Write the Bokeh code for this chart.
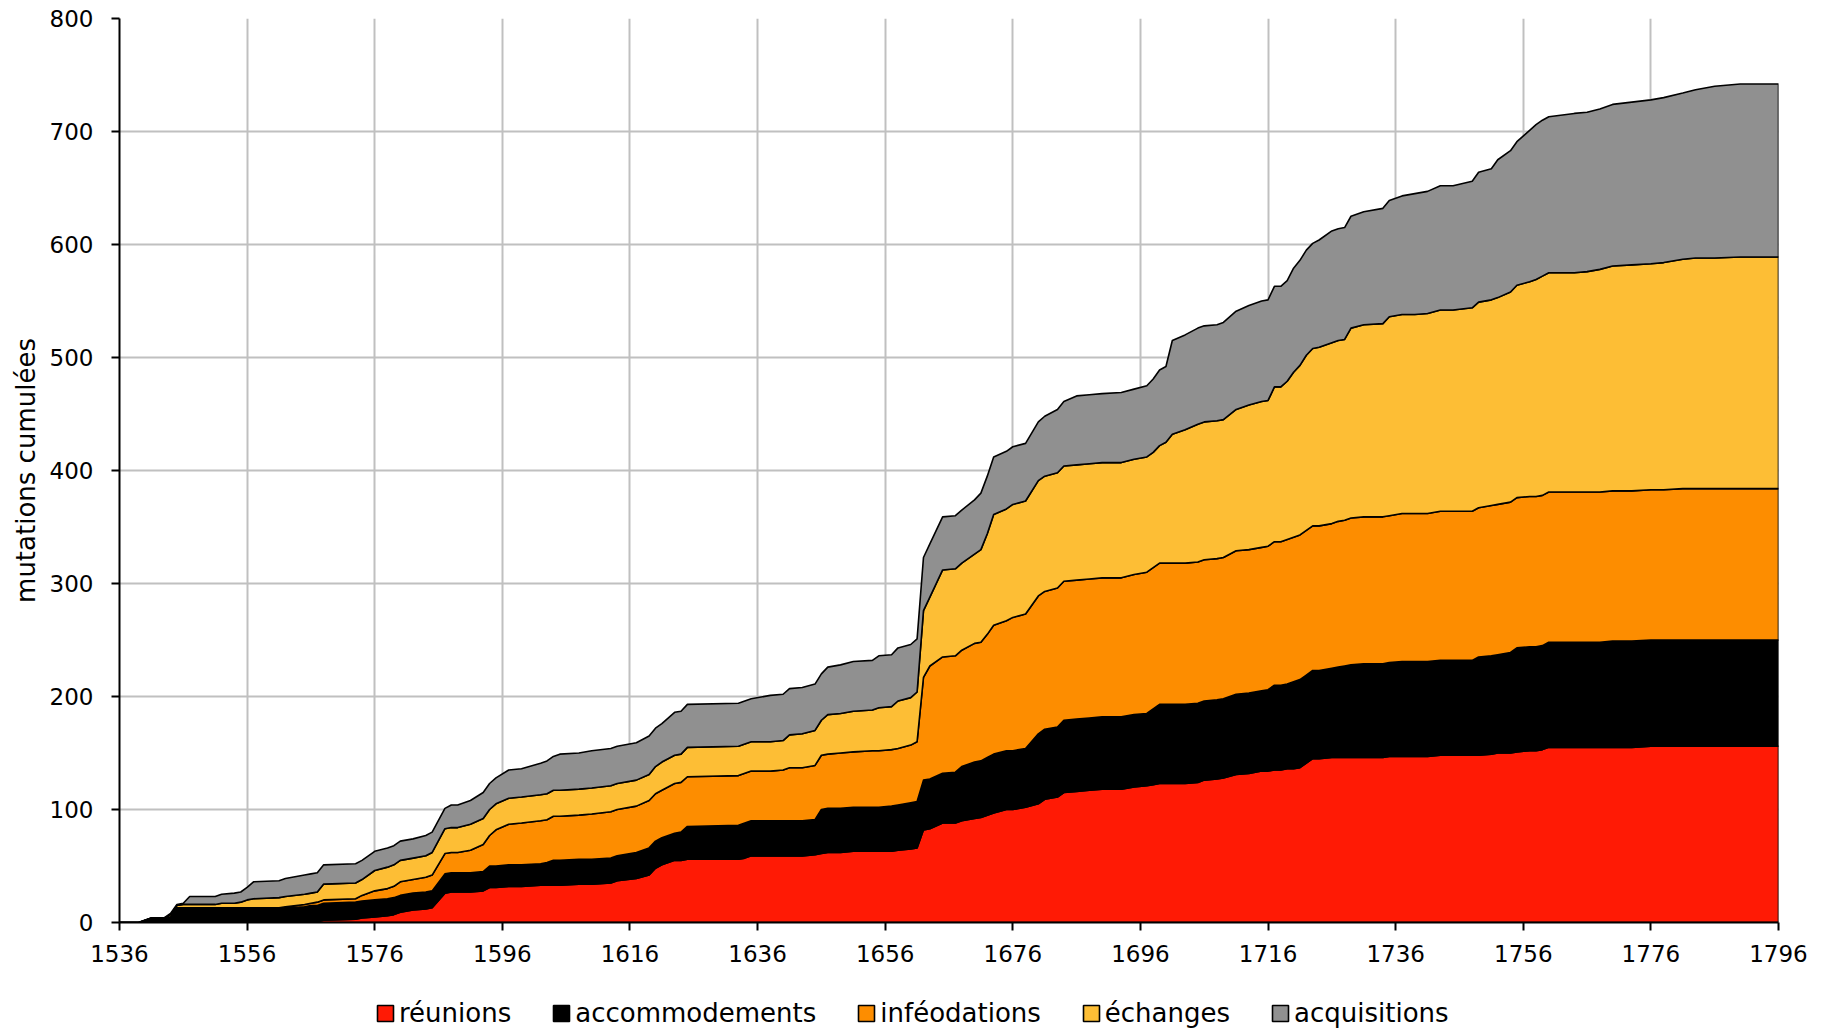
import numpy as np
from bokeh.plotting import figure
from bokeh.layouts import column
from bokeh.models import Range1d, FixedTicker, Legend, LegendItem
from bokeh.embed import file_html
from bokeh.resources import INLINE

years = [1536, 1539, 1541, 1543, 1544, 1545, 1546, 1547, 1551, 1552,
         1554, 1555, 1556, 1557, 1561, 1562, 1565, 1566, 1567, 1568,
         1573, 1574, 1576, 1578, 1579, 1580, 1582, 1584, 1585, 1587,
         1588, 1589, 1591, 1593, 1594, 1595, 1597, 1599, 1602, 1603,
         1604, 1605, 1608, 1610, 1613, 1614, 1617, 1619, 1620, 1621,
         1623, 1624, 1625, 1633, 1634, 1635, 1638, 1640, 1641, 1643,
         1645, 1646, 1647, 1649, 1651, 1654, 1655, 1657, 1658, 1660,
         1661, 1662, 1663, 1665, 1667, 1668, 1670, 1671, 1672, 1673,
         1675, 1676, 1678, 1680, 1681, 1683, 1684, 1686, 1688, 1690,
         1693, 1695, 1697, 1698, 1699, 1700, 1701, 1703, 1705, 1706,
         1708, 1709, 1711, 1713, 1715, 1716, 1717, 1718, 1719, 1720,
         1721, 1722, 1723, 1724, 1726, 1727, 1728, 1729, 1731, 1734,
         1735, 1737, 1739, 1741, 1743, 1745, 1748, 1749, 1751, 1752,
         1754, 1755, 1757, 1758, 1759, 1760, 1764, 1766, 1768, 1770,
         1773, 1776, 1778, 1781, 1783, 1786, 1790, 1796]

reunions = [0, 0, 0, 0, 0, 0, 0, 0, 0, 0,
            0, 0, 0, 0, 0, 0, 0, 1, 1, 2,
            3, 4, 5, 6, 7, 9, 11, 12, 13, 26,
            27, 27, 27, 28, 31, 31, 32, 32, 33, 33,
            33, 33, 34, 34, 35, 37, 39, 42, 48, 51,
            55, 55, 56, 56, 57, 59, 59, 59, 59, 59,
            60, 61, 62, 62, 63, 63, 63, 63, 64, 65,
            66, 82, 83, 88, 88, 90, 92, 93, 95, 97,
            100, 100, 102, 105, 109, 111, 115, 116, 117, 118,
            118, 120, 121, 122, 123, 123, 123, 123, 124, 126,
            127, 128, 131, 132, 134, 134, 135, 135, 136, 136,
            137, 141, 145, 145, 146, 146, 146, 146, 146, 146,
            147, 147, 147, 147, 148, 148, 148, 148, 149, 150,
            150, 151, 152, 152, 153, 155, 155, 155, 155, 155,
            155, 156, 156, 156, 156, 156, 156, 156]

accommodements = [0, 0, 4, 4, 5, 12, 12, 12, 12, 12,
                  12, 12, 12, 12, 12, 13, 14, 14, 14, 15,
                  15, 15, 15, 15, 15, 15, 15, 15, 15, 17,
                  17, 17, 17, 17, 19, 19, 19, 19, 19, 20,
                  22, 22, 22, 22, 22, 22, 23, 24, 24, 24,
                  24, 25, 29, 30, 31, 31, 31, 31, 31, 31,
                  31, 39, 39, 39, 39, 39, 39, 40, 40, 41,
                  41, 44, 44, 44, 45, 48, 50, 50, 51, 52,
                  52, 52, 52, 62, 62, 62, 64, 64, 64, 64,
                  64, 64, 64, 67, 70, 70, 70, 70, 70, 70,
                  70, 70, 71, 71, 71, 72, 75, 75, 75, 77,
                  78, 78, 78, 78, 79, 80, 81, 82, 83, 83,
                  83, 84, 84, 84, 84, 84, 84, 87, 87, 87,
                  89, 92, 92, 92, 92, 93, 93, 93, 93, 94,
                  94, 94, 94, 94, 94, 94, 94, 94]

infeodations = [0, 0, 0, 0, 0, 1, 1, 1, 1, 1,
                1, 1, 1, 1, 1, 1, 2, 2, 3, 3,
                3, 5, 8, 9, 10, 12, 12, 13, 14, 18,
                18, 18, 20, 24, 27, 32, 36, 37, 38, 38,
                39, 39, 39, 40, 41, 41, 41, 42, 42, 42,
                44, 44, 44, 44, 44, 44, 44, 45, 47, 47,
                48, 48, 48, 49, 49, 50, 50, 50, 50, 51,
                53, 91, 100, 103, 103, 103, 105, 105, 109, 114,
                115, 118, 119, 122, 122, 123, 123, 123, 123, 123,
                123, 124, 125, 125, 125, 125, 125, 125, 125, 125,
                125, 125, 127, 127, 127, 127, 127, 127, 128, 128,
                128, 128, 128, 128, 128, 129, 129, 130, 130, 130,
                130, 131, 131, 131, 132, 132, 132, 132, 133, 133,
                133, 133, 133, 133, 133, 133, 133, 133, 133, 133,
                133, 133, 133, 134, 134, 134, 134, 134]

echanges = [0, 0, 0, 0, 2, 2, 3, 3, 3, 4,
            4, 5, 7, 8, 9, 9, 9, 9, 9, 14,
            14, 14, 18, 19, 19, 19, 19, 19, 20, 22,
            22, 22, 23, 23, 23, 23, 23, 23, 23, 23,
            23, 23, 23, 23, 23, 23, 23, 23, 24, 25,
            25, 25, 26, 26, 26, 26, 26, 26, 29, 30,
            31, 31, 35, 35, 36, 36, 38, 38, 42, 42,
            44, 59, 61, 77, 77, 77, 79, 82, 89, 98,
            99, 100, 100, 102, 102, 102, 102, 102, 102, 102,
            102, 102, 102, 102, 104, 107, 114, 118, 122, 122,
            122, 122, 125, 128, 129, 129, 137, 137, 140, 146,
            150, 155, 157, 158, 160, 160, 160, 168, 170, 171,
            176, 176, 176, 177, 178, 178, 180, 182, 182, 183,
            186, 188, 190, 192, 194, 194, 194, 195, 197, 199,
            200, 200, 201, 203, 204, 204, 205, 205]

acquisitions = [0, 0, 0, 0, 1, 1, 1, 7, 7, 8,
                9, 9, 11, 15, 15, 16, 17, 17, 17, 17,
                17, 17, 17, 17, 17, 17, 17, 18, 18, 18,
                20, 20, 21, 23, 23, 23, 25, 25, 28, 29,
                30, 32, 32, 33, 33, 33, 33, 34, 34, 34,
                38, 38, 38, 38, 38, 38, 41, 41, 41, 41,
                41, 41, 42, 43, 44, 44, 46, 46, 47, 47,
                47, 47, 47, 47, 47, 47, 48, 50, 51, 51,
                51, 51, 51, 52, 53, 56, 57, 61, 61, 61,
                62, 62, 63, 65, 67, 67, 83, 84, 85, 85,
                85, 86, 87, 88, 89, 89, 89, 89, 89, 92,
                93, 93, 93, 95, 99, 99, 99, 99, 100, 102,
                103, 105, 107, 108, 110, 110, 112, 115, 116, 122,
                125, 127, 134, 137, 138, 138, 141, 141, 142, 143,
                144, 145, 146, 147, 149, 152, 153, 153]

labels = ["réunions", "accommodements", "inféodations", "échanges", "acquisitions"]
colors = ["#FF1A05", "#000000", "#FD8D00", "#FDBE35", "#909090"]
x_ticks = list(range(1536, 1797, 20))
y_ticks = list(range(0, 801, 100))

FONT = "DejaVu Sans"
W = 1822

p = figure(width=W, height=974,
           x_range=Range1d(1536, 1796), y_range=Range1d(0, 800),
           min_border_left=119, min_border_right=W - 1778,
           min_border_top=18, min_border_bottom=52,
           output_backend="svg", toolbar_location=None)
p.outline_line_color = None
p.background_fill_color = "white"
p.border_fill_color = "white"

x = np.array(years, dtype=float)
base = np.zeros(len(years))
for vals, col in zip([reunions, accommodements, infeodations, echanges, acquisitions], colors):
    top = base + np.array(vals, dtype=float)
    xs = list(x) + list(x[::-1])
    ys = list(top) + list(base[::-1])
    p.patch(xs, ys, fill_color=col, line_color="black", line_width=1.6, line_join="round")
    base = top

p.xaxis.ticker = FixedTicker(ticks=x_ticks)
p.yaxis.ticker = FixedTicker(ticks=y_ticks)
for ax in (p.xaxis[0], p.yaxis[0]):
    ax.axis_line_color = "black"
    ax.axis_line_width = 2
    ax.major_tick_line_color = "black"
    ax.major_tick_line_width = 2
    ax.major_tick_out = 8
    ax.major_tick_in = 0
    ax.minor_tick_line_color = None
    ax.major_label_text_font = FONT
    ax.major_label_text_font_size = "23px"
    ax.major_label_text_color = "black"
p.xaxis.major_label_standoff = 14
p.yaxis.major_label_standoff = 18
p.yaxis.axis_label = "mutations cumulées"
p.yaxis.axis_label_text_font = FONT
p.yaxis.axis_label_text_font_size = "26px"
p.yaxis.axis_label_text_font_style = "normal"
p.yaxis.axis_label_text_color = "black"
p.yaxis.axis_label_standoff = 6

p.xgrid.ticker = FixedTicker(ticks=x_ticks)
p.ygrid.ticker = FixedTicker(ticks=y_ticks)
p.grid.grid_line_color = "#C0C0C0"
p.grid.grid_line_width = 2

# legend strip below the chart (its frame is aligned with the chart frame)
lg = figure(width=W, height=54, x_range=Range1d(0, 1), y_range=Range1d(0, 1),
            x_axis_type=None, y_axis_type=None, min_border=0,
            output_backend="svg", toolbar_location=None)
lg.outline_line_color = None
lg.background_fill_color = "white"
lg.border_fill_color = "white"
items = []
for lab, col in zip(labels, colors):
    r = lg.patch([np.nan], [np.nan], fill_color=col, line_color="black", line_width=1.6)
    items.append(LegendItem(label=lab, renderers=[r]))
legend = Legend(items=items, orientation="horizontal", location=(256, 0),
                label_text_font=FONT, label_text_font_size="26px",
                label_text_color="black",
                glyph_width=20, glyph_height=20, label_standoff=4, spacing=40,
                padding=0, margin=0, border_line_color=None,
                background_fill_alpha=0)
lg.add_layout(legend)

layout = column(p, lg, spacing=0)
open("out.html", "w").write(file_html(layout, INLINE))
